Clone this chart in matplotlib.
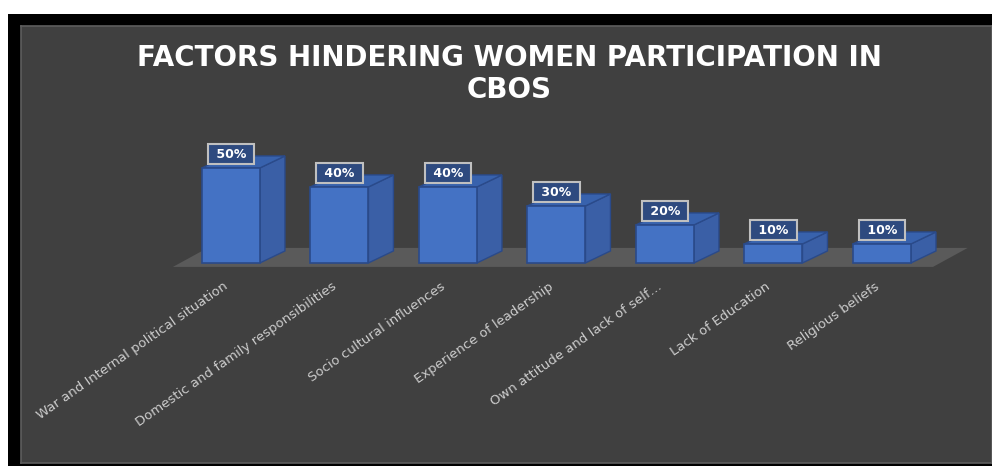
import matplotlib
matplotlib.use("Agg")
import matplotlib.pyplot as plt
from matplotlib.patches import Polygon, Rectangle

# data
categories = ["War and Internal political situation",
              "Domestic and family responsibilities",
              "Socio cultural influences",
              "Experience of leadership",
              "Own attitude and lack of self\u2026",
              "Lack of Education",
              "Religious beliefs"]
values = [50, 40, 40, 30, 20, 10, 10]
title_line1 = "FACTORS HINDERING WOMEN PARTICIPATION IN"
title_line2 = "CBOS"

W, H = 992, 466
fig = plt.figure(figsize=(W / 100, H / 100), dpi=100)
fig.patch.set_facecolor("white")

# black frame, then the dark chart area
fig.add_artist(Rectangle((8 / W, 0), 1, (H - 14) / H, transform=fig.transFigure,
                         facecolor="black", edgecolor="none", zorder=-2))

ax = fig.add_axes([21 / W, 3 / H, (W - 21) / W, (463 - 26) / H])
ax.set_facecolor("#404040")
for s in ax.spines.values():
    s.set_color("#5e5e5e")
    s.set_linewidth(1.2)
ax.set_xticks([])
ax.set_yticks([])

# px per unit: x 108.5, y 1.9 ; bar 0 centre at x=231px, base at y=263px
ax.set_xlim(-1.935, 7.014)
ax.set_ylim(-105.3, 124.7)

front = "#4472c4"
side = "#3a5fa6"
top = "#3862ad"
edge = "#2a4a8a"
bw = 0.535
dx, dy = 0.23, 6.3

# floor
n = len(values)
fy0, fy1 = -2.1, 7.9
fx0, fx1, fdx = -0.535, n - 0.53, 0.32
ax.add_patch(Polygon([(fx0, fy0), (fx1, fy0), (fx1 + fdx, fy1), (fx0 + fdx, fy1)],
                     closed=True, facecolor="#5a5a5a", edgecolor="none", zorder=1))

ax.bar(range(n), values, width=bw, color=front, edgecolor=edge, linewidth=1.2, zorder=3)
for i, v in enumerate(values):
    r = i + bw / 2
    l = i - bw / 2
    ax.add_patch(Polygon([(r, 0), (r + dx, dy), (r + dx, v + dy), (r, v)], closed=True,
                         facecolor=side, edgecolor=edge, linewidth=1.0, zorder=2))
    ax.add_patch(Polygon([(l, v), (r, v), (r + dx, v + dy), (l + dx, v + dy)], closed=True,
                         facecolor=top, edgecolor=edge, linewidth=1.0, zorder=2))
    ax.annotate(" {}% ".format(v), xy=(i, v), xytext=(0, 10), textcoords="offset points",
                ha="center", va="center", color="white", fontsize=9, fontweight="bold",
                family="DejaVu Sans", zorder=5,
                bbox=dict(boxstyle="square,pad=0.3", facecolor="#2e4a7f",
                          edgecolor="#c0c0c0", linewidth=1.5))
    ax.annotate(categories[i], xy=(i, 0), xytext=(-3, -16), textcoords="offset points",
                ha="right", va="center", rotation=35, rotation_mode="anchor",
                color="#cccccc", fontsize=9.5, family="DejaVu Sans", zorder=5)

fig.text(509 / W, 1 - 58 / H, title_line1, ha="center", va="center", color="white",
         fontsize=20, fontweight="bold", family="DejaVu Sans")
fig.text(509 / W, 1 - 90 / H, title_line2, ha="center", va="center", color="white",
         fontsize=20, fontweight="bold", family="DejaVu Sans")

fig.savefig("out.png", dpi=100, facecolor=fig.get_facecolor())
